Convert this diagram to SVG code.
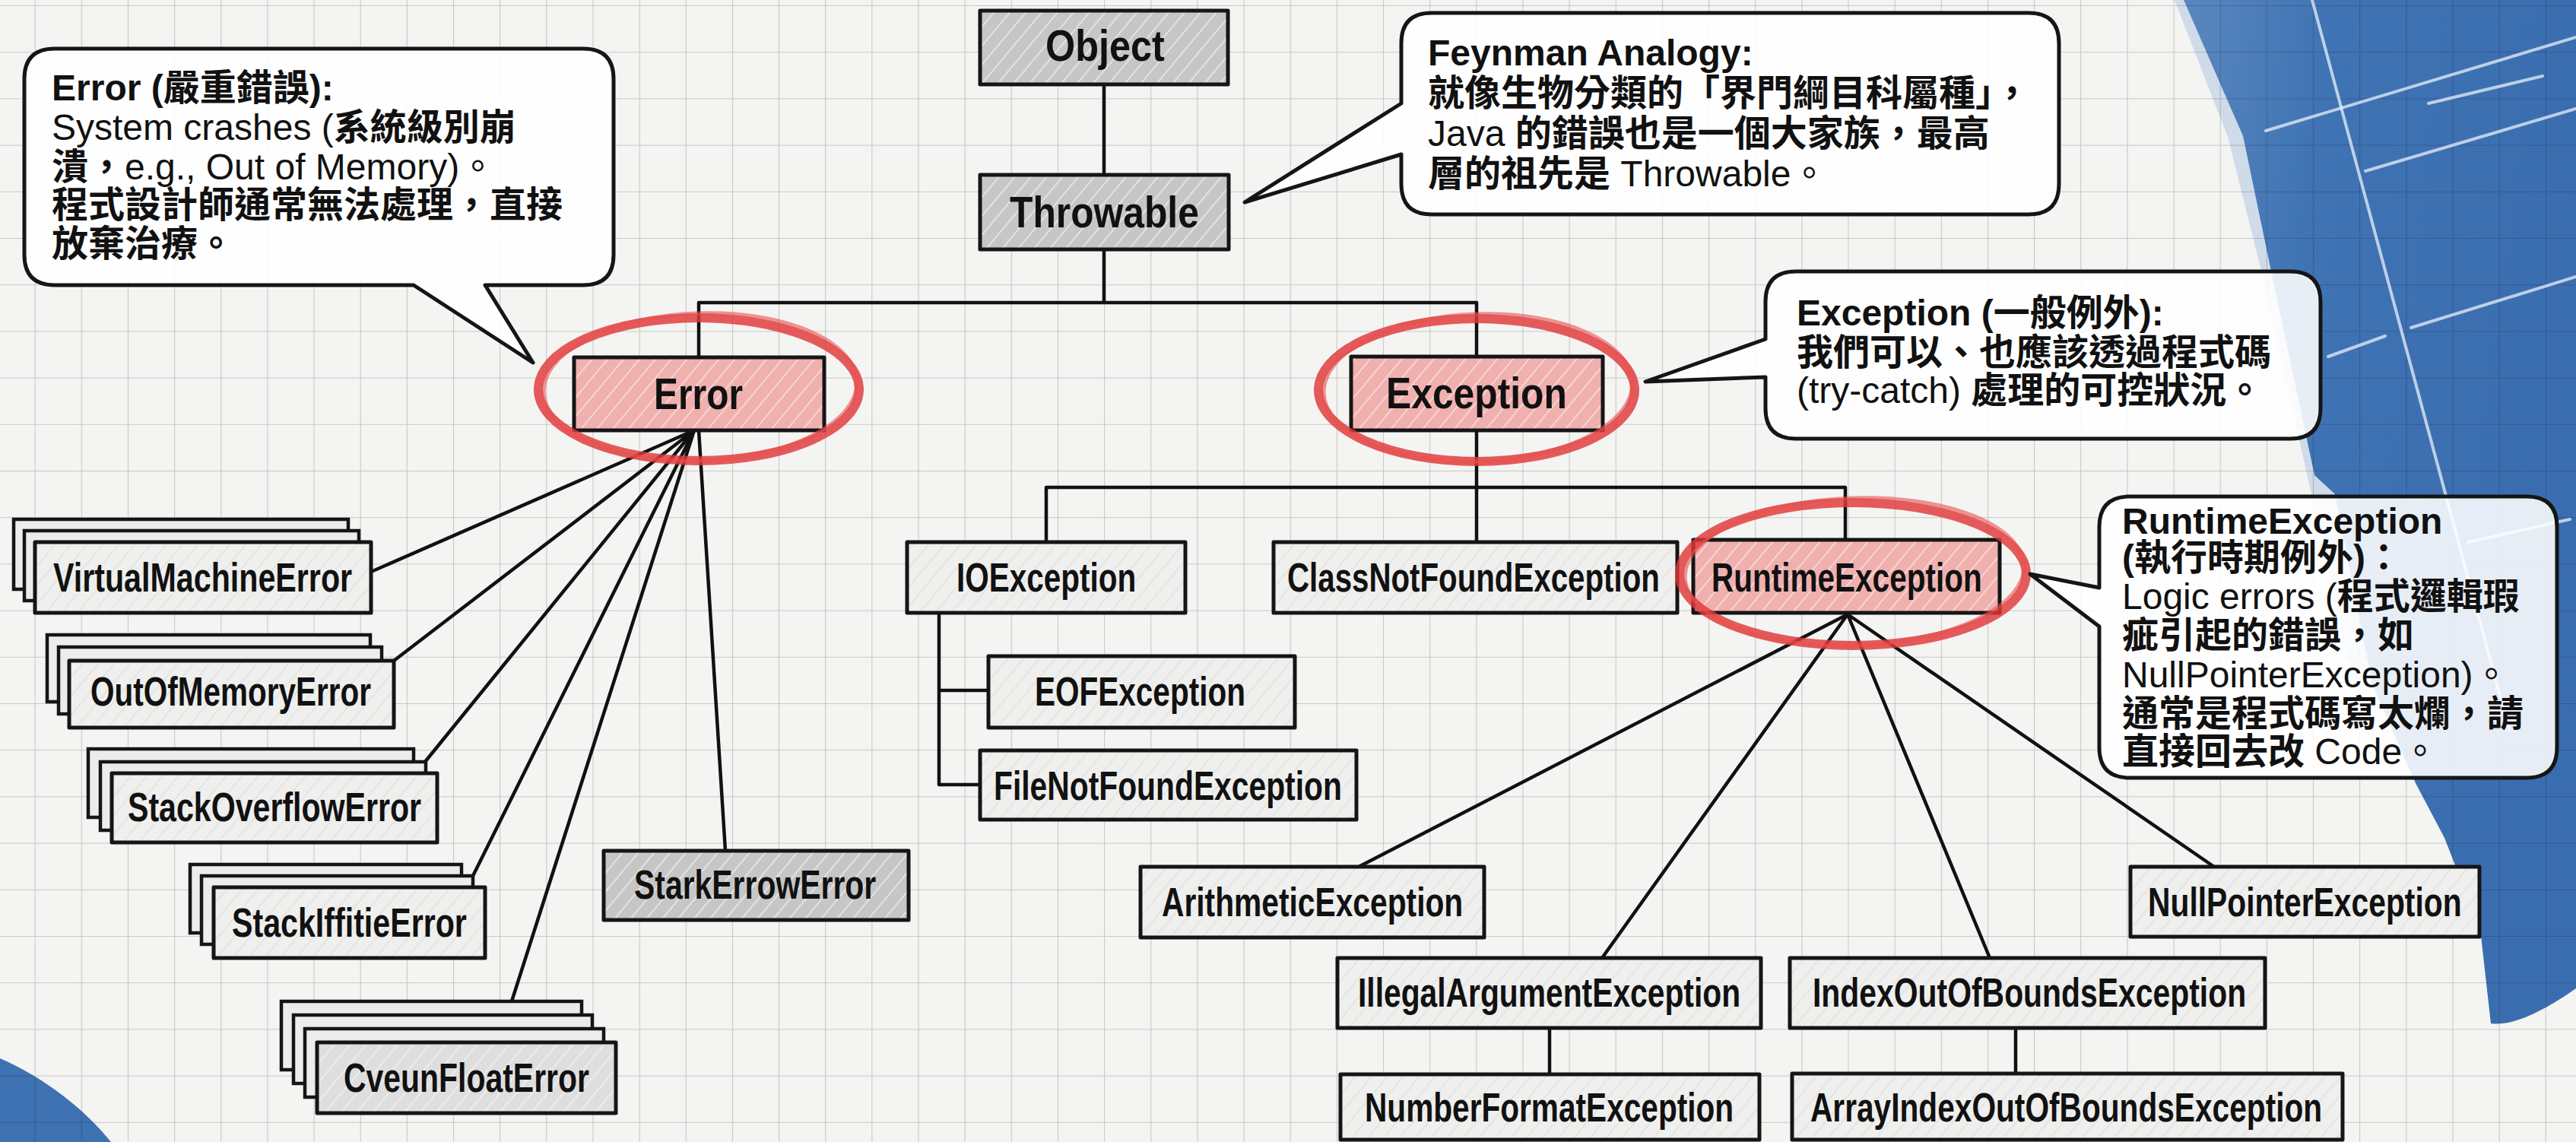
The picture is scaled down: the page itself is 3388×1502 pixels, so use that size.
<svg xmlns="http://www.w3.org/2000/svg" width="3388" height="1502" viewBox="0 0 3388 1502">
<style>
.bg{fill:#f4f4f3}
.ln{fill:none;stroke:#111;stroke-width:4.5;stroke-linecap:round;stroke-linejoin:round}
.box{stroke:#151515;stroke-width:5;stroke-linejoin:round}
.gray{fill:url(#hgray)}
.light{fill:url(#hlight)}
.pink{fill:url(#hpink)}
.back{fill:#ececeb;stroke:#151515;stroke-width:4.5}
.lbl{font-family:"Liberation Sans Narrow","Liberation Sans",Arial,sans-serif;font-weight:700;font-size:54px;fill:#111}
.big{font-size:58px}
.hl{fill:none;stroke:#e03838;stroke-width:12;stroke-opacity:.82}
.hl2{fill:none;stroke:#e85050;stroke-width:5;stroke-opacity:.6}
.call{fill:#ffffff;fill-opacity:.88;stroke:#151515;stroke-width:5;stroke-linejoin:round}
.ct{font-family:"Liberation Sans","Noto Sans CJK TC",sans-serif;font-size:48px;fill:#111}
.b{font-weight:700}
.streak{stroke:#e8f0fa;stroke-width:4;stroke-opacity:.75;fill:none;stroke-linecap:round}
</style>
<defs>
<pattern id="grid" patternUnits="userSpaceOnUse" x="45.6" y="7" width="61.15" height="61.2">
<path d="M0 0H61.15M0 0V61.2" fill="none" stroke="#000" stroke-opacity=".18" stroke-width="2.2"/>
</pattern>
<pattern id="hgray" patternUnits="userSpaceOnUse" width="16" height="16" patternTransform="rotate(40)">
<rect width="16" height="16" fill="#c6c6c6"/>
<line x1="4" y1="0" x2="4" y2="16" stroke="#eeeeee" stroke-width="2" stroke-opacity=".7"/>
</pattern>
<pattern id="hlight" patternUnits="userSpaceOnUse" width="16" height="16" patternTransform="rotate(40)">
<rect width="16" height="16" fill="#efefee"/>
<line x1="4" y1="0" x2="4" y2="16" stroke="#dcdcdc" stroke-width="2" stroke-opacity=".6"/>
</pattern>
<pattern id="hlight2" patternUnits="userSpaceOnUse" width="16" height="16" patternTransform="rotate(40)">
<rect width="16" height="16" fill="#dedede"/>
<line x1="4" y1="0" x2="4" y2="16" stroke="#f4f4f4" stroke-width="2" stroke-opacity=".7"/>
</pattern>
<pattern id="hpink" patternUnits="userSpaceOnUse" width="16" height="16" patternTransform="rotate(40)">
<rect width="16" height="16" fill="#efb0ae"/>
<line x1="4" y1="0" x2="4" y2="16" stroke="#fbe4e4" stroke-width="2" stroke-opacity=".7"/>
</pattern>
<linearGradient id="blueFill" x1="0" y1="0" x2="1" y2="0.3">
<stop offset="0" stop-color="#5a88c0"/>
<stop offset="0.35" stop-color="#3f73b3"/>
<stop offset="1" stop-color="#3a6daf"/>
</linearGradient>
</defs>

<g id="background">
<rect class="bg" x="0" y="0" width="3388" height="1502"/>
<path d="M2872,0 L3388,0 L3388,1300 C3345,1330 3305,1350 3276,1346 L3262,1222 L3215,1102 L3177,1030 L3120,900 L3071,650 L3044,625 L2987,357 L2950,179 Z" fill="url(#blueFill)"/>
<path d="M2872,0 L2950,179 L2987,357 L3044,625 L3071,650 L3120,900 L3095,900 L3040,650 L2975,360 L2930,180 L2860,0 Z" fill="#a9c2e0" fill-opacity=".5"/>
<path d="M0,1392 C60,1418 112,1460 146,1502 L0,1502 Z" fill="#3e72b2"/>
<rect x="0" y="0" width="3388" height="1502" fill="url(#grid)"/>
<path class="streak" d="M3041,0 L3300,960"/>
<path class="streak" d="M2980,172 L3388,49"/>
<path class="streak" d="M3111,225 L3388,143"/>
<path class="streak" d="M3194,136 L3344,100" stroke-width="2.5"/>
<path class="streak" d="M3171,431 L3388,364"/>
<path class="streak" d="M3062,469 L3137,442" stroke-width="2"/>
<path class="streak" d="M3246,713 L3380,683" stroke-width="3"/>
</g>

<g id="connectors" class="ln">
<path d="M1452,111 V230"/>
<path d="M1452,328 V398 M919,398 H1942 M919,398 V470 M1942,398 V469"/>
<path d="M913,566 L488,752 M913,566 L518,869 M913,566 L559,1002 M913,566 L622,1152 M913,566 L673,1317 M919,566 L954,1119"/>
<path d="M1942,566 V713 M1376,641 H2427 M1376,641 V713 M2427,641 V710"/>
<path d="M1235,806 V1032 M1235,908 H1300 M1235,1032 H1289"/>
<path d="M2430,808 L1787,1140 M2430,808 L2107,1260 M2430,808 L2617,1260 M2430,808 L2912,1140"/>
<path d="M2038,1352 V1413 M2651,1352 V1412"/>
</g>

<g id="n-object"><rect class="box gray" x="1289" y="14" width="326" height="97"/><text class="lbl big" transform="matrix(0.78 0 0 1 1375 80)" textLength="201" lengthAdjust="spacingAndGlyphs">Object</text></g>
<g id="n-throwable"><rect class="box gray" x="1289" y="230" width="327" height="98"/><text class="lbl big" transform="matrix(0.78 0 0 1 1328 299)" textLength="319" lengthAdjust="spacingAndGlyphs">Throwable</text></g>
<g id="n-error"><rect class="box pink" x="755" y="470" width="329" height="96"/><text class="lbl big" transform="matrix(0.78 0 0 1 860 538)" textLength="150" lengthAdjust="spacingAndGlyphs">Error</text>
<ellipse class="hl" cx="919" cy="512" rx="211" ry="94"/><ellipse class="hl2" cx="921" cy="509" rx="206" ry="97" transform="rotate(-2 921 509)"/></g>
<g id="n-exception"><rect class="box pink" x="1777" y="469" width="331" height="97"/><text class="lbl big" transform="matrix(0.78 0 0 1 1823 537)" textLength="305" lengthAdjust="spacingAndGlyphs">Exception</text>
<ellipse class="hl" cx="1942" cy="513" rx="208" ry="94"/><ellipse class="hl2" cx="1944" cy="510" rx="203" ry="97" transform="rotate(-2 1944 510)"/></g>

<g id="n-vme"><rect class="back" x="18" y="683" width="440" height="92"/><rect class="back" x="32" y="698" width="440" height="92"/><rect class="box light" x="46" y="713" width="442" height="93"/><text class="lbl" transform="matrix(0.78 0 0 1 70 778)" textLength="504" lengthAdjust="spacingAndGlyphs">VirtualMachineError</text></g>
<g id="n-oom"><rect class="back" x="62" y="835" width="425" height="88"/><rect class="back" x="77" y="851" width="425" height="88"/><rect class="box light" x="91" y="869" width="427" height="88"/><text class="lbl" transform="matrix(0.78 0 0 1 119 928)" textLength="473" lengthAdjust="spacingAndGlyphs">OutOfMemoryError</text></g>
<g id="n-soe"><rect class="back" x="116" y="985" width="428" height="90"/><rect class="back" x="132" y="1002" width="428" height="90"/><rect class="box light" x="147" y="1017" width="428" height="91"/><text class="lbl" transform="matrix(0.78 0 0 1 168 1080)" textLength="495" lengthAdjust="spacingAndGlyphs">StackOverflowError</text></g>
<g id="n-sie"><rect class="back" x="250" y="1137" width="357" height="90"/><rect class="back" x="265" y="1152" width="357" height="90"/><rect class="box light" x="281" y="1167" width="357" height="93"/><text class="lbl" transform="matrix(0.78 0 0 1 305 1232)" textLength="396" lengthAdjust="spacingAndGlyphs">StackIffitieError</text></g>
<g id="n-cfe"><rect class="back" x="370" y="1317" width="395" height="90"/><rect class="back" x="386" y="1335" width="393" height="90"/><rect class="back" x="401" y="1353" width="393" height="90"/><rect class="box" fill="url(#hlight2)" x="417" y="1371" width="393" height="93"/><text class="lbl" transform="matrix(0.78 0 0 1 452 1436)" textLength="414" lengthAdjust="spacingAndGlyphs">CveunFloatError</text></g>
<g id="n-stark"><rect class="box gray" x="794" y="1119" width="401" height="91"/><text class="lbl" transform="matrix(0.78 0 0 1 834 1182)" textLength="408" lengthAdjust="spacingAndGlyphs">StarkErrowError</text></g>

<g id="n-ioe"><rect class="box light" x="1193" y="713" width="366" height="93"/><text class="lbl" transform="matrix(0.78 0 0 1 1258 778)" textLength="303" lengthAdjust="spacingAndGlyphs">IOException</text></g>
<g id="n-cnfe"><rect class="box light" x="1675" y="713" width="531" height="93"/><text class="lbl" transform="matrix(0.78 0 0 1 1693 778)" textLength="628" lengthAdjust="spacingAndGlyphs">ClassNotFoundException</text></g>
<g id="n-runtime"><rect class="box pink" x="2227" y="710" width="403" height="96"/><text class="lbl" transform="matrix(0.78 0 0 1 2251 778)" textLength="456" lengthAdjust="spacingAndGlyphs">RuntimeException</text>
<ellipse class="hl" cx="2437" cy="755" rx="228" ry="94"/><ellipse class="hl2" cx="2439" cy="752" rx="223" ry="97" transform="rotate(-2 2439 752)"/></g>
<g id="n-eof"><rect class="box light" x="1300" y="863" width="403" height="94"/><text class="lbl" transform="matrix(0.78 0 0 1 1361 928)" textLength="355" lengthAdjust="spacingAndGlyphs">EOFException</text></g>
<g id="n-fnfe"><rect class="box light" x="1289" y="987" width="495" height="91"/><text class="lbl" transform="matrix(0.78 0 0 1 1307 1052)" textLength="587" lengthAdjust="spacingAndGlyphs">FileNotFoundException</text></g>
<g id="n-arith"><rect class="box light" x="1500" y="1140" width="452" height="93"/><text class="lbl" transform="matrix(0.78 0 0 1 1528 1205)" textLength="508" lengthAdjust="spacingAndGlyphs">ArithmeticException</text></g>
<g id="n-npe"><rect class="box light" x="2802" y="1140" width="459" height="92"/><text class="lbl" transform="matrix(0.78 0 0 1 2825 1205)" textLength="529" lengthAdjust="spacingAndGlyphs">NullPointerException</text></g>
<g id="n-iae"><rect class="box light" x="1759" y="1260" width="557" height="92"/><text class="lbl" transform="matrix(0.78 0 0 1 1786 1324)" textLength="645" lengthAdjust="spacingAndGlyphs">IllegalArgumentException</text></g>
<g id="n-ioobe"><rect class="box light" x="2354" y="1260" width="625" height="92"/><text class="lbl" transform="matrix(0.78 0 0 1 2384 1324)" textLength="731" lengthAdjust="spacingAndGlyphs">IndexOutOfBoundsException</text></g>
<g id="n-nfe"><rect class="box light" x="1763" y="1413" width="551" height="86"/><text class="lbl" transform="matrix(0.78 0 0 1 1795 1475)" textLength="622" lengthAdjust="spacingAndGlyphs">NumberFormatException</text></g>
<g id="n-aioobe"><rect class="box light" x="2357" y="1412" width="724" height="87"/><text class="lbl" transform="matrix(0.78 0 0 1 2381 1475)" textLength="863" lengthAdjust="spacingAndGlyphs">ArrayIndexOutOfBoundsException</text></g>

<g id="c-error">
<path class="call" d="M72,64 H767 Q807,64 807,104 V335 Q807,375 767,375 H638 L701,477 L544,375 H72 Q32,375 32,335 V104 Q32,64 72,64 Z"/>
<text class="ct"><tspan class="b" x="68" y="132">Error (嚴重錯誤):</tspan><tspan x="68" y="184">System crashes (<tspan class="b">系統級別崩</tspan></tspan><tspan x="68" y="236"><tspan class="b">潰，</tspan>e.g., Out of Memory)。</tspan><tspan class="b" x="68" y="286">程式設計師通常無法處理，直接</tspan><tspan class="b" x="68" y="337">放棄治療。</tspan></text>
</g>
<g id="c-feynman">
<path class="call" d="M1883,17 H2668 Q2708,17 2708,57 V242 Q2708,282 2668,282 H1883 Q1843,282 1843,242 V203 L1637,266 L1843,136 V57 Q1843,17 1883,17 Z"/>
<text class="ct"><tspan class="b" x="1878" y="86">Feynman Analogy:</tspan><tspan class="b" x="1878" y="139">就像生物分類的「界門綱目科屬種」，</tspan><tspan x="1878" y="192">Java <tspan class="b">的錯誤也是一個大家族，最高</tspan></tspan><tspan x="1878" y="245"><tspan class="b">層的祖先是</tspan> Throwable。</tspan></text>
</g>
<g id="c-exception">
<path class="call" d="M2362,357 H3012 Q3052,357 3052,397 V537 Q3052,577 3012,577 H2362 Q2322,577 2322,537 V496 L2164,502 L2322,446 V397 Q2322,357 2362,357 Z"/>
<text class="ct"><tspan class="b" x="2363" y="428">Exception (一般例外):</tspan><tspan class="b" x="2363" y="480">我們可以、也應該透過程式碼</tspan><tspan x="2363" y="530">(try-catch) <tspan class="b">處理的可控狀況。</tspan></tspan></text>
</g>
<g id="c-runtime">
<path class="call" d="M2801,653 H3323 Q3363,653 3363,693 V983 Q3363,1023 3323,1023 H2801 Q2761,1023 2761,983 V824 L2670,755 L2761,773 V693 Q2761,653 2801,653 Z"/>
<text class="ct"><tspan class="b" x="2791" y="702">RuntimeException</tspan><tspan class="b" x="2791" y="750">(執行時期例外)：</tspan><tspan x="2791" y="801">Logic errors (<tspan class="b">程式邏輯瑕</tspan></tspan><tspan class="b" x="2791" y="852">疵引起的錯誤，如</tspan><tspan x="2791" y="904">NullPointerException)。</tspan><tspan x="2791" y="955"><tspan class="b">通常是程式碼寫太爛，請</tspan></tspan><tspan x="2791" y="1005"><tspan class="b">直接回去改</tspan> Code。</tspan></text>
</g>
</svg>
